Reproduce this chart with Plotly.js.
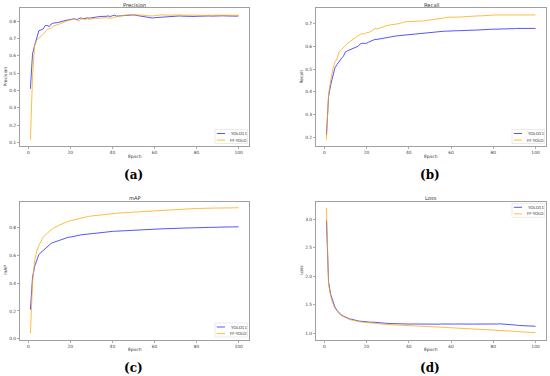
<!DOCTYPE html>
<html><head><meta charset="utf-8">
<script src="https://cdn.plot.ly/plotly-3.0.1.min.js"></script>
<style>html,body{margin:0;padding:0;background:#fff}#chart{width:550px;height:376px}</style>
</head><body><div id="chart"></div>
<script>
const epochs = Array.from({length:100},(_,i)=>i+1);
const seriesNames = ["YOLO11","FF-YOLO"];
const panelTitles = ["Precision","Recall","mAP","Loss"];
const captions = ["(a)","(b)","(c)","(d)"];

const precYolo = [0.41,0.61,0.66,0.70,0.745,0.750,0.755,0.775,0.776,0.770,
0.785,0.790,0.790,0.793,0.796,0.800,0.805,0.806,0.808,0.810,
0.812,0.815,0.810,0.816,0.820,0.815,0.819,0.820,0.818,0.821,
0.824,0.825,0.826,0.828,0.827,0.830,0.829,0.831,0.828,0.832,
0.835,0.830,0.831,0.833,0.835,0.836,0.838,0.839,0.838,0.837,
0.835,0.833,0.830,0.828,0.825,0.822,0.820,0.818,0.819,0.821,
0.822,0.823,0.825,0.826,0.826,0.825,0.826,0.827,0.828,0.829,
0.830,0.831,0.830,0.829,0.830,0.831,0.830,0.829,0.828,0.829,
0.830,0.829,0.828,0.829,0.830,0.831,0.830,0.831,0.832,0.831,
0.830,0.831,0.832,0.831,0.830,0.831,0.832,0.831,0.830,0.831];
const precFF = [0.115,0.48,0.66,0.690,0.705,0.712,0.725,0.740,0.752,0.758,
0.762,0.772,0.778,0.782,0.785,0.788,0.795,0.800,0.805,0.808,
0.810,0.812,0.808,0.800,0.812,0.815,0.810,0.814,0.812,0.815,
0.817,0.818,0.817,0.819,0.820,0.819,0.821,0.820,0.819,0.818,
0.824,0.828,0.830,0.832,0.834,0.836,0.838,0.839,0.839,0.838,
0.838,0.837,0.838,0.836,0.837,0.834,0.832,0.830,0.831,0.833,
0.835,0.837,0.840,0.838,0.836,0.835,0.836,0.835,0.836,0.837,
0.838,0.837,0.836,0.835,0.836,0.835,0.834,0.835,0.836,0.835,
0.834,0.835,0.836,0.835,0.834,0.835,0.836,0.835,0.836,0.835,
0.836,0.835,0.836,0.837,0.836,0.835,0.836,0.835,0.836,0.835];
const recYolo = [0.21,0.38,0.43,0.47,0.505,0.520,0.535,0.545,0.556,0.575,
0.580,0.584,0.586,0.590,0.595,0.600,0.610,0.613,0.612,0.613,
0.618,0.622,0.628,0.630,0.630,0.632,0.633,0.635,0.637,0.640,
0.641,0.643,0.644,0.645,0.646,0.647,0.648,0.650,0.651,0.652,
0.653,0.654,0.655,0.656,0.657,0.657,0.658,0.659,0.660,0.660,
0.661,0.662,0.663,0.664,0.665,0.665,0.666,0.666,0.667,0.667,
0.667,0.668,0.668,0.668,0.669,0.669,0.669,0.669,0.670,0.670,
0.670,0.671,0.671,0.672,0.672,0.673,0.673,0.674,0.674,0.675,
0.675,0.675,0.676,0.676,0.676,0.677,0.677,0.677,0.677,0.677,
0.678,0.678,0.678,0.678,0.678,0.678,0.678,0.678,0.678,0.678];
const recFF = [0.19,0.39,0.45,0.50,0.530,0.545,0.575,0.585,0.595,0.605,
0.612,0.620,0.627,0.634,0.640,0.645,0.652,0.655,0.653,0.660,
0.660,0.665,0.672,0.678,0.676,0.678,0.680,0.685,0.689,0.692,
0.693,0.694,0.695,0.696,0.698,0.700,0.704,0.707,0.708,0.708,
0.709,0.709,0.709,0.710,0.710,0.710,0.711,0.712,0.713,0.714,
0.716,0.717,0.718,0.719,0.720,0.721,0.724,0.727,0.727,0.725,
0.725,0.726,0.727,0.728,0.728,0.729,0.730,0.730,0.731,0.731,
0.732,0.732,0.733,0.733,0.734,0.734,0.735,0.735,0.736,0.737,
0.737,0.737,0.737,0.737,0.737,0.737,0.737,0.737,0.737,0.737,
0.737,0.737,0.737,0.738,0.738,0.738,0.738,0.738,0.737,0.737];
const mapYolo = [0.21,0.44,0.52,0.57,0.605,0.620,0.635,0.645,0.660,0.675,
0.688,0.693,0.698,0.703,0.708,0.713,0.720,0.728,0.730,0.731,
0.735,0.740,0.743,0.745,0.747,0.749,0.751,0.753,0.755,0.757,
0.759,0.761,0.763,0.765,0.766,0.767,0.769,0.770,0.771,0.772,
0.773,0.774,0.775,0.776,0.777,0.778,0.779,0.780,0.781,0.782,
0.783,0.784,0.784,0.785,0.786,0.786,0.787,0.788,0.788,0.789,
0.789,0.790,0.790,0.791,0.791,0.792,0.792,0.793,0.793,0.794,
0.794,0.795,0.795,0.796,0.796,0.797,0.797,0.798,0.798,0.799,
0.799,0.800,0.800,0.800,0.801,0.801,0.801,0.802,0.802,0.802,
0.803,0.803,0.803,0.803,0.804,0.804,0.804,0.804,0.805,0.805];
const mapFF = [0.04,0.40,0.56,0.63,0.670,0.700,0.730,0.745,0.760,0.775,
0.785,0.795,0.805,0.815,0.820,0.825,0.833,0.840,0.845,0.849,
0.853,0.857,0.861,0.865,0.869,0.872,0.876,0.879,0.881,0.883,
0.885,0.887,0.889,0.891,0.893,0.895,0.897,0.899,0.900,0.901,
0.902,0.903,0.904,0.905,0.906,0.907,0.908,0.909,0.910,0.912,
0.913,0.914,0.915,0.916,0.917,0.918,0.919,0.920,0.921,0.922,
0.923,0.924,0.925,0.926,0.927,0.928,0.929,0.930,0.930,0.931,
0.932,0.932,0.933,0.934,0.934,0.935,0.935,0.936,0.936,0.937,
0.937,0.938,0.938,0.938,0.939,0.939,0.939,0.940,0.940,0.940,
0.940,0.941,0.941,0.941,0.941,0.942,0.942,0.942,0.942,0.942];
const lossYolo = [2.98,1.90,1.68,1.55,1.46,1.40,1.35,1.32,1.30,1.28,
1.26,1.25,1.245,1.23,1.225,1.215,1.21,1.205,1.20,1.198,
1.195,1.193,1.195,1.19,1.185,1.18,1.178,1.176,1.175,1.172,
1.170,1.168,1.167,1.166,1.165,1.164,1.163,1.163,1.162,1.161,
1.160,1.162,1.161,1.160,1.162,1.161,1.160,1.159,1.161,1.160,
1.162,1.160,1.161,1.159,1.162,1.160,1.161,1.160,1.162,1.161,
1.160,1.161,1.162,1.160,1.161,1.162,1.160,1.161,1.162,1.160,
1.161,1.160,1.162,1.161,1.160,1.162,1.161,1.160,1.162,1.161,
1.160,1.162,1.165,1.163,1.160,1.158,1.157,1.157,1.156,1.150,
1.142,1.136,1.133,1.132,1.130,1.128,1.126,1.125,1.123,1.122];
const lossFF = [3.20,1.85,1.65,1.52,1.44,1.38,1.34,1.31,1.29,1.27,
1.25,1.24,1.23,1.22,1.21,1.205,1.20,1.195,1.19,1.185,
1.180,1.177,1.174,1.170,1.166,1.163,1.160,1.157,1.155,1.152,
1.150,1.148,1.146,1.144,1.142,1.140,1.138,1.136,1.134,1.132,
1.131,1.130,1.129,1.128,1.126,1.124,1.122,1.120,1.118,1.116,
1.114,1.112,1.110,1.108,1.106,1.104,1.102,1.100,1.098,1.096,
1.094,1.092,1.090,1.088,1.086,1.084,1.082,1.080,1.078,1.076,
1.075,1.074,1.073,1.072,1.071,1.070,1.068,1.066,1.064,1.062,
1.060,1.058,1.056,1.055,1.054,1.052,1.050,1.048,1.046,1.042,
1.036,1.030,1.025,1.021,1.018,1.015,1.013,1.012,1.011,1.010];

const W=550,H=376;
const px=x=>x/W, py=y=>1-y/H;
const BLUE='rgba(20,20,255,0.72)', ORANGE='rgba(255,165,0,0.75)';
const FONT='DejaVu Sans';

// panel boxes in pixels [left,right,top,bottom]
const boxes=[[20,249,8,146],[316,546,8,146],[20,249,201.5,339.5],[316,546,201.5,339.5]];
const yRanges=[[0.079,0.877],[0.1625,0.7675],[-0.005,0.987],[0.89,3.31]];
const yDtick=[0.1,0.1,0.2,0.5];
const yTick0=[0.1,0.2,0,1];
const data=[
  [precYolo,precFF],[recYolo,recFF],[mapYolo,mapFF],[lossYolo,lossFF]
];

const traces=[];
const layout={width:W,height:H,margin:{l:0,r:0,t:0,b:0},paper_bgcolor:'#fff',plot_bgcolor:'#fff',
  showlegend:false,font:{family:FONT,color:'#333'},shapes:[],annotations:[]};

const axBase={showline:true,mirror:true,linecolor:'#a0a0a0',linewidth:1,showgrid:false,zeroline:false,
  ticks:'outside',ticklen:2,tickwidth:0.6,tickcolor:'#777',tickfont:{family:FONT,size:4.4,color:'#444'},automargin:false,fixedrange:true};

boxes.forEach((b,i)=>{
  const n=i===0?'':String(i+1);
  layout['xaxis'+n]=Object.assign({},axBase,{domain:[px(b[0]),px(b[1])],range:[-3.95,104.95],tick0:0,dtick:20,anchor:'y'+n});
  layout['yaxis'+n]=Object.assign({},axBase,{domain:[py(b[3]),py(b[2])],range:yRanges[i],tick0:yTick0[i],dtick:yDtick[i],tickformat:'.1f',anchor:'x'+n});
  [BLUE,ORANGE].forEach((c,k)=>{
    traces.push({x:epochs,y:data[i][k],type:'scatter',mode:'lines',name:seriesNames[k],
      line:{color:c,width:1},xaxis:'x'+n,yaxis:'y'+n,hoverinfo:'skip'});
  });
  const cx=(b[0]+b[1])/2, cy=(b[2]+b[3])/2;
  // title
  layout.annotations.push({text:panelTitles[i],x:px(cx),y:py(b[2]-3.5),xref:'paper',yref:'paper',showarrow:false,
    xanchor:'center',yanchor:'middle',font:{family:FONT,size:5.2,color:'#333'}});
  // x label
  layout.annotations.push({text:'Epoch',x:px(cx),y:py(b[3]+10),xref:'paper',yref:'paper',showarrow:false,
    xanchor:'center',yanchor:'middle',font:{family:FONT,size:4.4,color:'#333'}});
  // y label
  layout.annotations.push({text:panelTitles[i],x:px(b[0]-14.5),y:py(cy),xref:'paper',yref:'paper',showarrow:false,textangle:-90,
    xanchor:'center',yanchor:'middle',font:{family:FONT,size:4.4,color:'#333'}});
  // caption
  layout.annotations.push({text:'<b>'+captions[i]+'</b>',x:px(cx-1.5),y:py(b[3]+28.5),xref:'paper',yref:'paper',showarrow:false,
    xanchor:'center',yanchor:'middle',font:{family:'DejaVu Serif',size:12,color:'#000'}});
  // legend
  const lw=32.5, lh=14;
  const lx=b[1]-lw-1.5;
  const ly=(i===3)?b[2]+1.8:b[3]-lh-2.5;
  layout.shapes.push({type:'rect',xref:'paper',yref:'paper',x0:px(lx),x1:px(lx+lw),y0:py(ly+lh),y1:py(ly),
    line:{color:'#ddd',width:0.6},fillcolor:'rgba(255,255,255,0.85)'});
  [BLUE,ORANGE].forEach((c,k)=>{
    const yy=ly+4+k*6.6;
    layout.shapes.push({type:'line',xref:'paper',yref:'paper',x0:px(lx+1.8),x1:px(lx+10),y0:py(yy),y1:py(yy),
      line:{color:c,width:1}});
    layout.annotations.push({text:seriesNames[k],x:px(lx+13.3),y:py(yy),xref:'paper',yref:'paper',showarrow:false,
      xanchor:'left',yanchor:'middle',font:{family:FONT,size:4.1,color:'#333'}});
  });
});

Plotly.newPlot('chart',traces,layout,{staticPlot:true,displayModeBar:false});
</script>
</body></html>
